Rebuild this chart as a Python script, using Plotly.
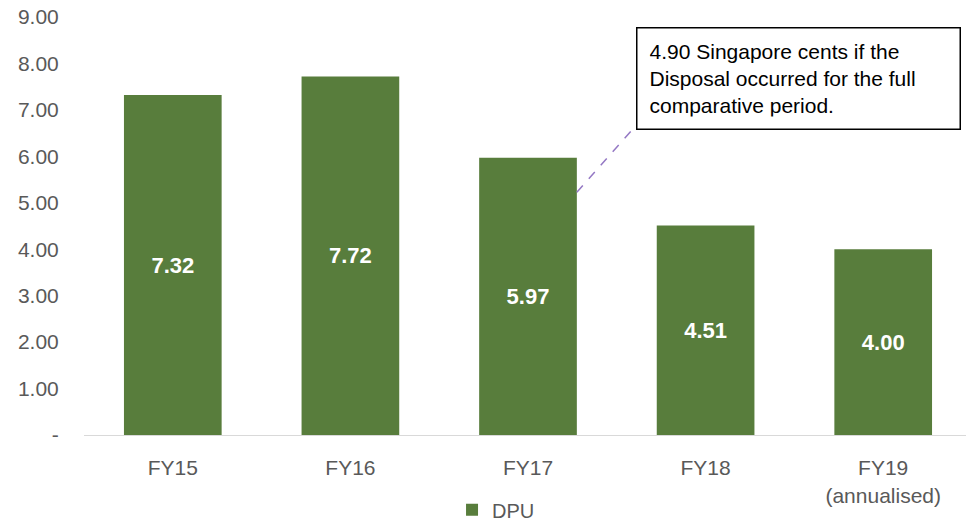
import plotly.graph_objects as go

categories = ["FY15", "FY16", "FY17", "FY18", "FY19<br>(annualised)"]
dpu = [7.32, 7.72, 5.97, 4.51, 4.00]
y_ticks = [0, 1, 2, 3, 4, 5, 6, 7, 8, 9]
y_tick_labels = ["-", "1.00", "2.00", "3.00", "4.00", "5.00", "6.00", "7.00", "8.00", "9.00"]
note_text = ("4.90 Singapore cents if the<br>Disposal occurred for the full<br>"
             "comparative period.")

font_family = "Liberation Sans, Arial, sans-serif"
green = "#587D3C"
grey = "#595959"

fig = go.Figure()

fig.add_trace(
    go.Bar(
        x=categories,
        y=dpu,
        name="DPU",
        marker=dict(color=green, line=dict(width=0)),
        texttemplate="<b>%{y:.2f}</b>",
        textposition="inside",
        insidetextanchor="middle",
        textangle=0,
        constraintext="none",
        textfont=dict(color="white", size=22, family=font_family),
    )
)

# callout box
fig.add_annotation(
    xref="paper", yref="paper",
    x=0.6216, y=0.976,
    xanchor="left", yanchor="top",
    text=note_text,
    showarrow=False,
    align="left",
    valign="middle",
    width=298,
    height=76,
    borderpad=12,
    bordercolor="black",
    borderwidth=1.5,
    bgcolor="white",
    font=dict(size=21, color="black", family=font_family),
)

# dashed leader line from FY17 bar to the box
fig.add_shape(
    type="line",
    xref="paper", yref="paper",
    x0=0.555, y0=0.581, x1=0.619, y1=0.734,
    line=dict(color="#9478C4", width=1.5, dash="dash"),
)

# page body adds an 8px offset; figure is taller than the window so the
# legend fits without pushing the plot area up
fig.update_layout(
    width=966,
    height=530,
    margin=dict(l=76, r=2, t=9, b=103),
    paper_bgcolor="white",
    plot_bgcolor="white",
    bargap=0.45,
    font=dict(family=font_family, size=21, color=grey),
    showlegend=True,
    legend=dict(
        orientation="h",
        x=0.464, y=-0.179,
        xanchor="center", yanchor="middle",
        font=dict(size=20, color=grey),
        itemwidth=30,
    ),
)

fig.update_xaxes(
    automargin=False,
    showgrid=False,
    showline=True,
    linecolor="#D9D9D9",
    linewidth=1,
    ticks="outside",
    ticklen=14,
    tickcolor="rgba(0,0,0,0)",
    tickfont=dict(size=21, color=grey),
)

fig.update_yaxes(
    automargin=False,
    range=[0, 9],
    tickvals=y_ticks,
    ticktext=y_tick_labels,
    ticklabeloverflow="allow",
    showgrid=False,
    zeroline=False,
    showline=False,
    ticks="outside",
    ticklen=20,
    tickcolor="rgba(0,0,0,0)",
    tickfont=dict(size=21, color=grey),
)

fig.write_html("out.html")
